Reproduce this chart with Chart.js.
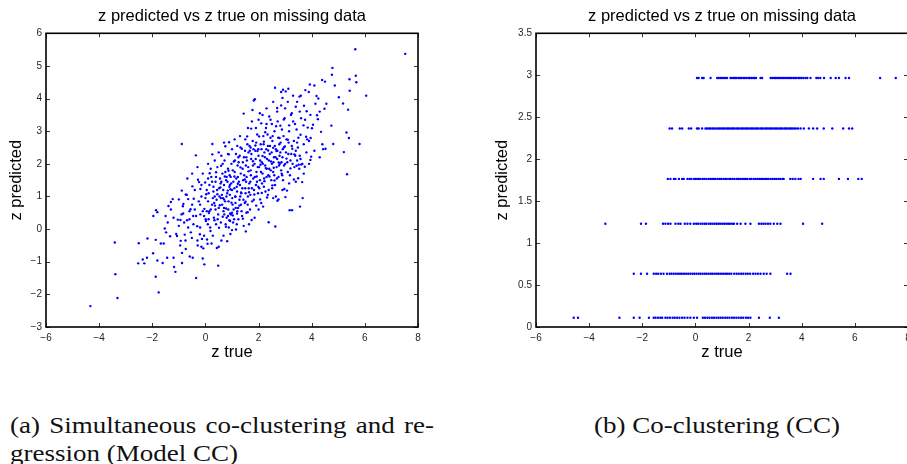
<!DOCTYPE html>
<html>
<head>
<meta charset="utf-8">
<script src="https://cdn.jsdelivr.net/npm/chart.js@4/dist/chart.umd.min.js"></script>
<style>
  html, body { margin: 0; padding: 0; background: #fff; width: 907px; height: 464px; overflow: hidden; }
  body { position: relative; }
  canvas { position: absolute; top: 0; }
  #left { left: 0; }
  #right { left: 490px; }
  .cap { position: absolute; font-family: "Liberation Serif", serif; font-size: 24px; line-height: 24px;
         color: #111; white-space: nowrap; transform-origin: 0 50%; }
  #capA1 { text-align: justify; text-align-last: justify; white-space: normal; }
</style>
</head>
<body>
<canvas id="left" width="440" height="370"></canvas>
<canvas id="right" width="440" height="370"></canvas>
<div class="cap" id="capA1" style="left:10px; top:413px;"></div>
<div class="cap" id="capA2" style="left:10px; top:441px;"></div>
<div class="cap" id="capB" style="left:594px; top:413px;"></div>
<script>
// text
const chartTitle = 'z predicted vs z true on missing data';
const xLabel = 'z true';
const yLabel = 'z predicted';

// axis ranges / ticks
const xTicks = [-6, -4, -2, 0, 2, 4, 6, 8];
const leftYTicks = [-3, -2, -1, 0, 1, 2, 3, 4, 5, 6];
const rightYTicks = [0, 0.5, 1, 1.5, 2, 2.5, 3, 3.5];

// (a) simultaneous co-clustering and regression: [z true, z predicted]
const modelPoints = [
  [-4.33,-2.36],[-3.41,-0.41],[-3.39,-1.38],[-3.31,-2.11],[-2.51,-0.43],[-2.53,-1.05],[-2.36,-0.93],[-2.30,-1.05],
  [-2.20,-0.88],[-2.18,-0.29],[-1.97,-0.74],[-1.96,0.40],[-1.86,0.58],[-1.81,0.52],[-1.87,-0.33],[-1.87,-1.46],
  [-1.76,-1.94],[-1.81,-0.96],[-1.68,-0.44],[-1.57,-0.44],[-1.61,-1.04],[-1.53,0.02],[-1.48,-0.10],[-1.42,0.20],
  [-1.44,-0.88],[-1.39,0.71],[-1.33,-0.22],[-1.30,0.83],[-1.23,0.92],[-1.20,-0.88],[-1.18,-1.16],[-1.13,-1.31],
  [-1.07,-0.21],[-1.04,0.29],[-1.00,0.91],[-0.94,0.28],[-0.93,-0.36],[-0.88,-1.04],[-0.89,2.61],[-0.89,1.18],
  [-0.88,-0.73],[-0.84,0.48],[-0.83,0.77],[-0.78,-0.17],[-0.74,1.06],[-0.74,-0.61],[-0.69,0.27],[-0.68,1.55],
  [-0.65,0.92],[-0.59,-0.84],[-0.56,0.61],[-0.51,-0.27],[-0.49,1.31],[-0.48,-0.88],[-0.46,0.40],[-0.44,0.93],
  [-0.36,2.26],[-0.35,-1.50],[-0.31,0.09],[-0.29,-0.50],[-0.28,1.51],[-0.24,1.44],[-0.21,-0.16],[-0.19,0.45],
  [-0.19,1.23],[-0.15,-0.54],[-0.13,-0.30],[-0.10,-0.90],[-0.08,-0.59],[-0.04,0.62],[-0.04,-1.08],[-0.01,1.43],
  [0.01,0.30],[0.03,1.07],[0.06,-0.32],[0.09,0.15],[0.13,0.49],[0.16,1.71],[0.19,-0.06],[0.23,-0.44],
  [0.26,2.61],[0.26,2.29],[0.28,0.95],[0.30,1.30],[0.34,0.27],[0.36,0.72],[0.40,1.74],[0.43,-0.58],
  [0.45,1.07],[0.48,-1.12],[0.50,-0.54],[0.51,0.04],[0.54,0.73],[0.56,1.28],[0.59,1.94],[0.60,2.25],
  [0.65,0.38],[0.68,-0.20],[0.70,0.91],[0.73,1.61],[0.75,2.54],[0.77,0.07],[0.78,0.63],[0.82,-0.37],
  [0.84,1.18],[0.87,1.79],[0.88,2.29],[0.89,2.66],[0.90,0.27],[0.92,1.35],[0.93,0.48],[0.94,1.22],
  [0.98,0.81],[1.00,-0.03],[1.03,0.42],[1.07,2.07],[1.09,1.61],[1.13,0.99],[1.15,-0.01],[1.19,0.48],
  [1.22,1.39],[1.24,2.20],[1.28,0.72],[1.32,1.89],[1.34,1.12],[1.37,2.46],[1.41,0.32],[1.44,3.54],
  [1.48,1.52],[1.51,0.84],[1.52,-0.07],[1.54,2.20],[1.57,2.84],[1.59,0.52],[1.62,1.77],[1.64,1.13],
  [1.67,2.40],[1.69,1.45],[1.72,3.08],[1.74,0.28],[1.77,3.65],[1.79,2.08],[1.82,3.94],[1.84,1.06],
  [1.86,3.98],[1.88,2.56],[1.91,0.72],[1.93,1.61],[1.96,2.39],[1.99,1.30],[2.02,2.84],[2.05,3.55],
  [2.06,0.91],[2.07,1.97],[2.10,3.24],[2.12,1.11],[2.15,2.24],[2.17,0.69],[2.20,2.68],[2.22,1.47],
  [2.25,2.97],[2.27,1.87],[2.30,3.22],[2.32,0.97],[2.36,2.41],[2.38,0.21],[2.41,1.61],[2.45,2.80],
  [2.47,2.07],[2.50,3.22],[2.52,1.34],[2.55,2.49],[2.57,1.88],[2.60,1.49],[2.62,4.33],[2.63,0.08],
  [2.65,1.00],[2.67,2.39],[2.70,3.71],[2.71,0.87],[2.75,0.91],[2.76,2.04],[2.79,2.79],[2.82,3.17],
  [2.85,3.79],[2.87,1.70],[2.90,4.02],[2.92,4.27],[2.95,3.36],[2.97,1.23],[2.99,2.53],[3.01,0.98],
  [3.02,4.22],[3.05,2.16],[3.07,1.18],[3.10,2.74],[3.12,4.30],[3.15,3.18],[3.17,0.58],[3.20,1.86],
  [3.22,3.50],[3.26,0.58],[3.27,2.46],[3.30,4.09],[3.33,1.52],[3.35,2.29],[3.37,3.22],[3.40,3.75],
  [3.43,1.94],[3.45,2.65],[3.49,1.56],[3.51,1.97],[3.54,4.06],[3.56,0.69],[3.58,2.89],[3.59,4.09],
  [3.61,1.98],[3.64,1.44],[3.66,0.95],[3.69,3.18],[3.71,3.78],[3.74,1.91],[3.76,4.26],[3.79,2.83],
  [3.81,3.61],[3.83,2.75],[3.85,3.11],[3.89,4.20],[3.93,4.43],[3.95,2.12],[3.96,2.79],[3.98,2.22],
  [4.01,3.09],[4.10,4.40],[4.14,3.84],[4.18,4.08],[4.20,3.49],[4.23,3.37],[4.25,4.00],[4.30,2.20],
  [4.35,2.98],[4.39,4.57],[4.43,2.45],[4.48,3.69],[4.50,4.52],[4.52,2.46],[4.55,3.84],[4.74,3.17],
  [4.76,4.73],[4.78,4.94],[4.81,2.61],[4.87,4.40],[5.02,4.04],[5.18,3.85],[5.21,2.36],[5.31,2.96],
  [5.33,1.68],[5.37,3.66],[5.40,2.79],[5.42,4.59],[5.43,4.24],[5.64,5.51],[5.66,4.70],[5.68,4.50],
  [5.80,2.61],[6.05,4.09],[7.52,5.37],
  [0.05,1.2],[0.1,0.85],[0.15,1.35],[0.2,0.6],[0.22,1.6],[0.3,1.15],[0.32,0.35],[0.38,1.45],
  [0.42,0.9],[0.45,1.9],[0.5,0.65],[0.52,1.25],[0.55,1.55],[0.58,0.2],[0.62,1.05],[0.64,1.7],
  [0.68,0.55],[0.7,1.35],[0.72,2.1],[0.74,0.85],[0.78,1.5],[0.8,0.35],[0.82,1.1],[0.85,1.85],
  [0.86,0.6],[0.9,1.3],[0.92,1.05],[0.95,1.6],[0.96,0.45],[0.98,2.0],[1.0,1.2],[1.02,0.75],
  [1.05,1.45],[1.08,0.3],[1.1,1.75],[1.12,1.0],[1.15,2.3],[1.18,1.3],[1.2,0.55],[1.22,1.6],
  [1.25,2.05],[1.28,0.9],[1.3,1.35],[1.32,2.5],[1.35,1.1],[1.38,0.4],[1.4,1.85],[1.42,1.5],
  [1.45,2.2],[1.48,0.8],[1.5,1.25],[1.52,1.95],[1.55,1.6],[1.58,2.6],[1.6,1.0],[1.62,2.35],
  [1.65,1.4],[1.68,0.6],[1.7,1.8],[1.72,2.15],[1.75,1.25],[1.78,2.7],[1.8,1.55],[1.82,0.9],
  [1.85,2.0],[1.88,2.4],[1.9,1.35],[1.92,1.75],[1.95,2.9],[1.98,1.1],[2.0,2.25],[2.02,1.9],
  [2.05,1.5],[2.08,2.6],[2.1,0.8],[2.12,2.05],[2.15,1.7],[2.18,2.85],[2.2,1.3],[2.22,2.35],
  [2.25,1.95],[2.28,3.1],[2.3,1.6],[2.32,2.15],[2.35,2.55],[2.38,1.2],[2.4,1.85],[2.42,2.3],
  [2.45,3.35],[2.48,1.5],[2.5,2.0],[2.52,2.7],[2.55,1.75],[2.58,2.2],[2.6,3.0],[2.62,1.35],
  [2.65,2.45],[2.68,1.9],[2.7,2.15],[2.72,3.3],[2.75,1.6],[2.78,2.6],[2.8,2.0],[2.82,2.35],
  [2.85,1.8],[2.88,3.05],[2.9,2.2],[2.92,1.5],[2.95,2.5],[2.98,3.4],[3.0,2.0],[3.05,2.75],
  [3.1,1.75],[3.12,2.3],[3.15,3.0],[3.2,2.1],[3.25,2.55],[3.3,3.3],[3.35,1.9],[3.4,2.4],
  [3.45,2.1],[3.5,2.8],[3.55,2.25],[3.6,3.4],[3.65,2.0],[3.7,2.6],[3.8,2.35],[3.9,2.7],
  [-0.9,0.45],[-0.8,0.2],[-0.7,1.05],[-0.6,0.55],[-0.55,-0.1],[-0.5,0.75],[-0.45,0.15],[-0.4,1.2],
  [-0.35,0.4],[-0.3,-0.35],[-0.25,0.85],[-0.2,0.05],[-0.15,1.35],[-0.1,0.55],[-0.05,-0.2],[0.0,0.95],
  [0.02,0.25],[0.08,-0.45],[0.12,1.1],[0.18,0.05],[0.25,0.75],[0.28,-0.2],[0.35,1.0],[0.4,0.15],
  [0.48,0.45],[0.6,-0.35],[0.66,0.95],[0.76,0.15],[0.88,0.05],[0.94,-0.15],[1.04,0.2],[1.14,0.65],
  [1.24,0.3],[1.34,0.75],[1.44,0.1],[1.54,0.5],[1.64,0.15],[-1.2,0.35],[-1.1,-0.15],[-1.0,0.1],
  [-1.3,0.6],[-1.5,0.4],[-0.95,-0.5],[-0.75,-0.35],[-0.65,0.05],[-0.85,0.7],
  [-0.5,1.7],[-0.3,1.9],[-0.1,1.7],[0.1,2.0],[0.2,1.85],[0.35,2.1],[0.5,2.35],[0.65,2.0],
  [0.7,2.65],[0.85,2.3],[1.0,2.45],[1.1,2.75],[1.2,2.55],[1.3,2.85],[1.5,2.75],[1.6,3.1],
  [1.7,2.5],[1.75,3.3],[1.9,3.1],[2.0,3.35],[2.15,3.5],[2.3,3.7],[2.4,3.45],[2.55,3.9],
  [2.7,3.6],[2.85,4.2],[3.0,3.7],[3.1,3.9],[3.25,3.55],[3.45,3.9],[3.55,3.6],[3.75,3.35],
  [3.95,3.5],[4.05,3.2],[4.3,3.6],
  [3.4,1.45],[3.7,1.7],[3.9,2.0],[4.1,2.4],[4.4,2.6],[2.9,1.2],[3.15,1.4],[2.55,0.95],
  [2.35,1.05],[2.0,0.6],[1.85,0.35],
  [0.15,0.55],[0.25,1.45],[0.33,0.8],[0.44,1.2],[0.53,1.0],[0.57,1.4],[0.63,0.75],[0.67,1.2],
  [0.71,0.45],[0.75,1.75],[0.79,1.0],[0.83,1.45],[0.87,0.85],[0.91,1.65],[0.93,0.25],[0.97,1.4],
  [1.01,0.95],[1.03,1.8],[1.06,0.6],[1.09,1.25],[1.11,2.1],[1.13,0.8],[1.16,1.55],[1.19,1.15],
  [1.21,1.95],[1.23,0.65],[1.26,1.45],[1.29,2.25],[1.31,1.0],[1.33,1.7],[1.36,0.55],[1.39,1.25],
  [1.41,2.05],[1.43,0.9],[1.46,1.65],[1.49,2.4],[1.51,1.1],[1.53,1.45],[1.56,2.1],[1.59,0.75],
  [1.61,1.9],[1.63,1.25],[1.66,2.55],[1.69,1.05],[1.71,1.65],[1.73,2.3],[1.76,0.85],[1.79,1.95],
  [1.81,2.45],[1.83,1.2],[1.86,1.6],[1.89,2.15],[1.91,2.65],[1.94,1.45],[1.97,1.9],[1.99,2.45],
  [2.03,1.25],[2.06,2.1],[2.09,1.75],[2.11,2.45],[2.13,1.4],[2.16,2.0],[2.19,2.6],[2.21,1.55],
  [2.24,2.2],[2.26,1.15],[2.29,2.45],[2.31,1.85],[2.34,2.9],[2.37,1.65],[2.39,2.1],[2.43,2.55],
  [2.46,1.8],[2.49,2.35],[2.51,1.25],[2.53,2.85],[2.56,2.05],[2.59,1.65],[2.61,2.55],[2.64,2.2],
  [2.66,3.15],[2.69,1.55],[2.71,2.4],[2.74,2.8],[2.77,1.95],[2.79,2.25],[2.83,2.65],[2.86,2.05],
  [2.89,1.65],[2.91,2.45],[2.94,2.85],[2.96,1.95],[3.03,2.35],[3.08,2.05],[3.13,2.65],[3.18,1.65],
  [3.23,2.3],[3.28,2.0],[3.33,2.7],[3.38,2.25],[3.43,3.05],[3.48,2.5],[3.53,1.85],[3.58,2.15],
  [-0.2,0.75],[-0.4,0.6],[-0.6,0.3],[-0.15,1.0],[0.05,0.55],[0.12,0.3],[-0.05,0.4],[0.38,0.6],
  [0.46,0.3],[0.58,0.95],[0.7,0.65],[0.85,0.4],[1.0,0.5],[1.18,0.15],[0.8,1.6],[0.6,1.45],
  [0.4,1.6],[0.1,1.55]
];

// (b) co-clustering: predictions fall on six levels; z true values per level
const ccLevels = [2.968, 2.365, 1.765, 1.23, 0.634, 0.11];
const ccLevel1X = [0.06,0.12,0.25,0.31,0.57,0.82,0.88,0.94,1.0,1.07,1.12,1.19,1.32,1.38,1.45,1.5,1.56,1.63,1.68,
  1.74,1.81,1.86,1.92,1.99,2.04,2.1,2.17,2.22,2.28,2.45,2.51,2.83,2.89,2.96,3.01,3.07,3.14,3.19,3.26,3.33,3.39,
  3.45,3.52,3.57,3.63,3.7,3.75,3.81,3.88,3.93,3.99,4.06,4.14,4.21,4.33,4.55,4.62,4.7,4.84,5.09,5.28,5.4,5.65,
  5.78,6.95,7.54];
const ccLevel2X = [-0.97,-0.88,-0.59,-0.5,-0.25,-0.16,0.06,0.12,0.25,0.38,0.44,0.51,0.56,0.63,0.69,0.75,0.82,
  0.89,0.94,1.01,1.06,1.12,1.19,1.24,1.3,1.37,1.42,1.48,1.55,1.6,1.66,1.73,1.78,1.84,1.91,1.96,2.02,2.09,2.14,
  2.2,2.27,2.32,2.38,2.45,2.5,2.56,2.63,2.68,2.74,2.81,2.86,2.92,2.99,3.04,3.1,3.17,3.22,3.28,3.35,3.4,3.46,
  3.53,3.58,3.64,3.71,3.78,3.86,3.96,4.08,4.27,4.43,4.58,4.83,5.15,5.56,5.78,5.9];
const ccLevel3X = [-1.04,-0.94,-0.81,-0.75,-0.62,-0.5,-0.44,-0.3,-0.22,-0.15,-0.05,0.02,0.1,0.17,0.26,0.33,
  0.41,0.49,0.56,0.63,0.7,0.76,0.84,0.91,0.97,1.05,1.12,1.18,1.27,1.33,1.4,1.47,1.55,1.61,1.68,1.76,1.83,1.9,
  1.96,2.05,2.11,2.19,2.26,2.33,2.4,2.47,2.54,2.62,2.69,2.75,2.83,2.9,2.97,3.04,3.12,3.19,3.27,3.32,3.57,3.66,
  3.76,3.88,3.96,4.43,4.71,4.83,5.4,5.74,6.13,6.26];
const ccLevel4X = [-3.39,-2.05,-1.86,-1.22,-1.13,-1.03,-0.94,-0.75,-0.64,-0.56,-0.4,-0.3,-0.19,-0.06,0.03,0.1,
  0.19,0.27,0.35,0.41,0.5,0.57,0.64,0.72,0.79,0.86,0.93,1.01,1.08,1.16,1.23,1.3,1.38,1.45,1.57,1.7,1.88,2.07,
  2.39,2.48,2.56,2.64,2.73,2.82,2.95,3.08,3.2,4.05,4.77];
const ccLevel5X = [-2.32,-2.05,-1.82,-1.57,-1.48,-1.4,-1.3,-1.2,-1.07,-0.97,-0.9,-0.82,-0.74,-0.66,-0.58,-0.51,
  -0.43,-0.35,-0.27,-0.19,-0.11,-0.04,0.04,0.12,0.19,0.27,0.35,0.42,0.5,0.58,0.65,0.73,0.81,0.88,0.96,1.04,
  1.12,1.19,1.27,1.35,1.46,1.55,1.63,1.72,1.8,1.89,1.97,2.06,2.17,2.26,2.35,2.45,2.57,2.68,2.82,3.45,3.58];
const ccLevel6X = [-4.58,-4.42,-2.86,-2.32,-2.1,-1.75,-1.57,-1.5,-1.41,-1.32,-1.25,-1.13,-1.05,-0.96,-0.86,
  -0.78,-0.69,-0.6,-0.5,-0.41,-0.3,-0.19,-0.06,0.06,0.28,0.36,0.45,0.53,0.62,0.7,0.79,0.87,0.95,1.03,1.12,1.2,
  1.28,1.37,1.45,1.54,1.63,1.72,1.8,1.9,1.98,2.07,2.39,2.8,3.14];

const captionA1 = '(a) Simultaneous co-clustering and re-';
const captionA2 = 'gression (Model CC)';
const captionB = '(b) Co-clustering (CC)';

const sans = '"Liberation Sans", Arial, Helvetica, sans-serif';
const minus = v => String(v).replace('-', '\u2212');

// MATLAB-style box with inward ticks on all four sides
const boxTicks = {
  id: 'boxTicks',
  afterDraw(chart) {
    const { ctx, chartArea: a, scales: { x, y } } = chart;
    ctx.save();
    ctx.strokeStyle = '#333';
    ctx.lineWidth = 1;
    ctx.beginPath();
    x.ticks.forEach(t => {
      const px = Math.round(x.getPixelForValue(t.value)) + 0.5;
      ctx.moveTo(px, a.top); ctx.lineTo(px, a.top + 4);
      ctx.moveTo(px, a.bottom); ctx.lineTo(px, a.bottom - 4);
    });
    y.ticks.forEach(t => {
      const py = Math.round(y.getPixelForValue(t.value)) + 0.5;
      ctx.moveTo(a.left, py); ctx.lineTo(a.left + 4, py);
      ctx.moveTo(a.right, py); ctx.lineTo(a.right - 4, py);
    });
    ctx.stroke();
    ctx.strokeStyle = '#000';
    ctx.lineWidth = 1.6;
    ctx.strokeRect(a.left, a.top, a.width, a.height);
    ctx.restore();
  }
};

function makeChart(id, points, yTicks, yTitlePad) {
  return new Chart(document.getElementById(id), {
    type: 'scatter',
    data: { datasets: [{
      data: points,
      backgroundColor: '#0000ff',
      borderWidth: 0,
      pointRadius: 1.2,
      pointHoverRadius: 1.2
    }] },
    options: {
      responsive: false,
      animation: false,
      events: [],
      layout: { padding: { left: 0, right: 22, top: 0, bottom: 0 } },
      plugins: {
        legend: { display: false },
        tooltip: { enabled: false },
        title: {
          display: true, text: chartTitle, color: '#000', fullSize: false,
          font: { family: sans, size: 16.5, weight: 'normal', lineHeight: 1.2 },
          padding: { top: 7, bottom: 6.5 }
        }
      },
      scales: {
        x: {
          type: 'linear', min: xTicks[0], max: xTicks[xTicks.length - 1],
          afterFit: s => { s.height = 43; },
          afterBuildTicks: s => { s.ticks = xTicks.map(v => ({ value: v })); },
          grid: { display: false, drawTicks: false },
          border: { display: false },
          ticks: { padding: 5, color: '#262626', font: { family: sans, size: 10 }, callback: minus, maxRotation: 0 },
          title: { display: true, text: xLabel, color: '#000',
                   font: { family: sans, size: 16.5, lineHeight: 1.2 }, padding: { top: 0, bottom: 8 } }
        },
        y: {
          type: 'linear', min: yTicks[0], max: yTicks[yTicks.length - 1],
          afterFit: s => { s.width = 46; },
          afterBuildTicks: s => { s.ticks = yTicks.map(v => ({ value: v })); },
          grid: { display: false, drawTicks: false },
          border: { display: false },
          ticks: { padding: 4, color: '#262626', font: { family: sans, size: 10 }, callback: minus },
          title: { display: true, text: yLabel, color: '#000',
                   font: { family: sans, size: 16.5, lineHeight: 1.2 }, padding: { top: yTitlePad, bottom: 0 } }
        }
      }
    },
    plugins: [boxTicks]
  });
}

const leftData = modelPoints.map(([x, y]) => ({ x, y }));
const ccXs = [ccLevel1X, ccLevel2X, ccLevel3X, ccLevel4X, ccLevel5X, ccLevel6X];
const rightData = [];
ccXs.forEach((xs, i) => xs.forEach(x => rightData.push({ x, y: ccLevels[i] })));

makeChart('left', leftData, leftYTicks, 7);
makeChart('right', rightData, rightYTicks, 3);

// captions: fit the serif text to the widths of the reference lines
const a1 = document.getElementById('capA1');
const a2 = document.getElementById('capA2');
const b = document.getElementById('capB');
a1.textContent = captionA1; a2.textContent = captionA2; b.textContent = captionB;
const scale = 246 / b.getBoundingClientRect().width;
[a1, a2, b].forEach(el => { el.style.transform = 'scaleX(' + scale + ')'; });
a1.style.width = (424 / scale) + 'px';
</script>
</body>
</html>
